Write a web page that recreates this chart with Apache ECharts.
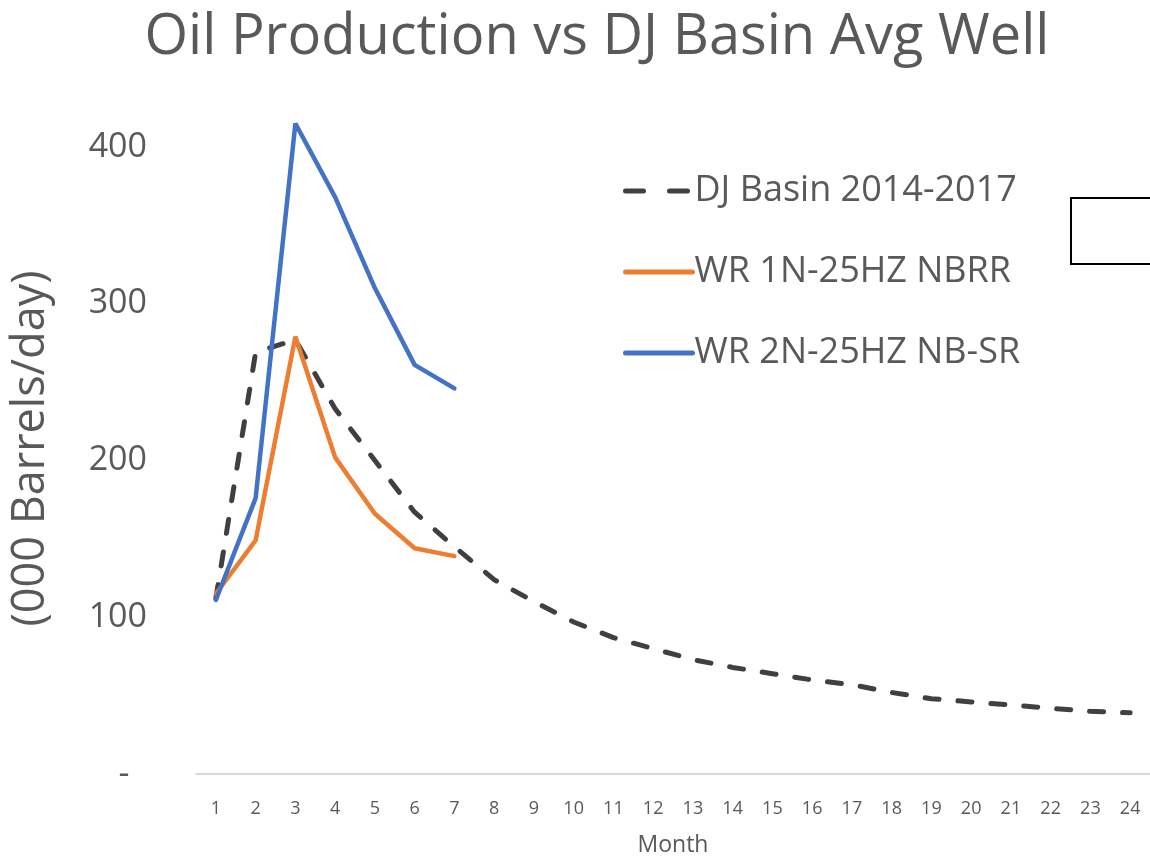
<!DOCTYPE html>
<html>
<head>
<meta charset="utf-8">
<script src="https://cdn.jsdelivr.net/npm/echarts@6/dist/echarts.min.js"></script>
<style>
html, body { margin: 0; padding: 0; background: #fff; }
#chart { width: 1150px; height: 862px; }
</style>
</head>
<body>
<div id="chart"></div>
<script>
var months = ['1','2','3','4','5','6','7','8','9','10','11','12','13','14','15','16','17','18','19','20','21','22','23','24'];
var dj_basin = [112, 269, 277, 233, 200, 167, 145, 124, 110, 97, 87, 80, 73, 68, 64, 60, 57, 52, 48, 46, 44, 42, 40, 39];
var wr_1n = [115, 149, 279, 202, 166, 144, 139];
var wr_2n = [111, 176, 415, 368, 310, 261, 246];

var txt = '#595959';
var font = '"Open Sans", "Noto Sans", sans-serif';

var myChart = echarts.init(document.getElementById('chart'));
myChart.setOption({
	animation: false,
	title: {
		text: 'Oil Production vs DJ Basin Avg Well',
		left: 592,
		textAlign: 'center',
		top: 5,
		textStyle: { color: txt, fontSize: 56, fontWeight: 'normal', fontFamily: font }
	},
	legend: {
		orient: 'vertical',
		left: 623,
		top: 173,
		padding: 0,
		itemWidth: 67,
		itemHeight: 10,
		itemGap: 45,
		itemStyle: { opacity: 0 },
		lineStyle: { width: 5, cap: 'round' },
		textStyle: { color: txt, fontSize: 36, fontFamily: font, padding: [0, 0, 0, -3] },
		data: [
			{ name: 'DJ Basin 2014-2017', lineStyle: { type: [18, 26] } },
			{ name: 'WR 1N-25HZ NBRR' },
			{ name: 'WR 2N-25HZ NB-SR' }
		]
	},
	grid: { left: 196, right: -6, top: 147, bottom: 84 },
	xAxis: {
		type: 'category',
		data: months,
		boundaryGap: true,
		name: 'Month',
		nameLocation: 'middle',
		nameGap: 60,
		nameTextStyle: { color: txt, fontSize: 23, fontFamily: font },
		axisLine: { lineStyle: { color: '#d9d9d9', width: 2 } },
		axisTick: { show: false },
		axisLabel: { color: txt, fontSize: 18, fontFamily: font, margin: 26, interval: 0 }
	},
	yAxis: {
		type: 'value',
		min: 0,
		max: 400,
		interval: 100,
		name: '(000 Barrels/day)',
		nameLocation: 'middle',
		nameRotate: 90,
		nameGap: 142,
		nameTextStyle: { color: txt, fontSize: 45, fontFamily: font, padding: [0, 0, 0, 24] },
		splitLine: { show: false },
		axisLine: { show: false },
		axisTick: { show: false },
		axisLabel: {
			color: txt, fontSize: 34, fontFamily: font, margin: 49,
			formatter: function (v) { return v === 0 ? '-  ' : String(v); }
		}
	},
	graphic: [{
		type: 'rect',
		shape: { x: 1071, y: 198, width: 100, height: 66 },
		style: { fill: '#fff', stroke: '#000', lineWidth: 2 }
	}],
	series: [
		{
			name: 'DJ Basin 2014-2017',
			type: 'line',
			data: dj_basin,
			symbol: 'none',
			clip: false,
			itemStyle: { color: '#404040' },
			lineStyle: { color: '#404040', width: 5, type: [14, 19], cap: 'round' }
		},
		{
			name: 'WR 1N-25HZ NBRR',
			type: 'line',
			data: wr_1n,
			symbol: 'none',
			clip: false,
			itemStyle: { color: '#ED7D31' },
			lineStyle: { color: '#ED7D31', width: 4.5, cap: 'round' }
		},
		{
			name: 'WR 2N-25HZ NB-SR',
			type: 'line',
			data: wr_2n,
			symbol: 'none',
			clip: false,
			itemStyle: { color: '#4472C4' },
			lineStyle: { color: '#4472C4', width: 4.5, cap: 'round' }
		}
	]
});
</script>
</body>
</html>
